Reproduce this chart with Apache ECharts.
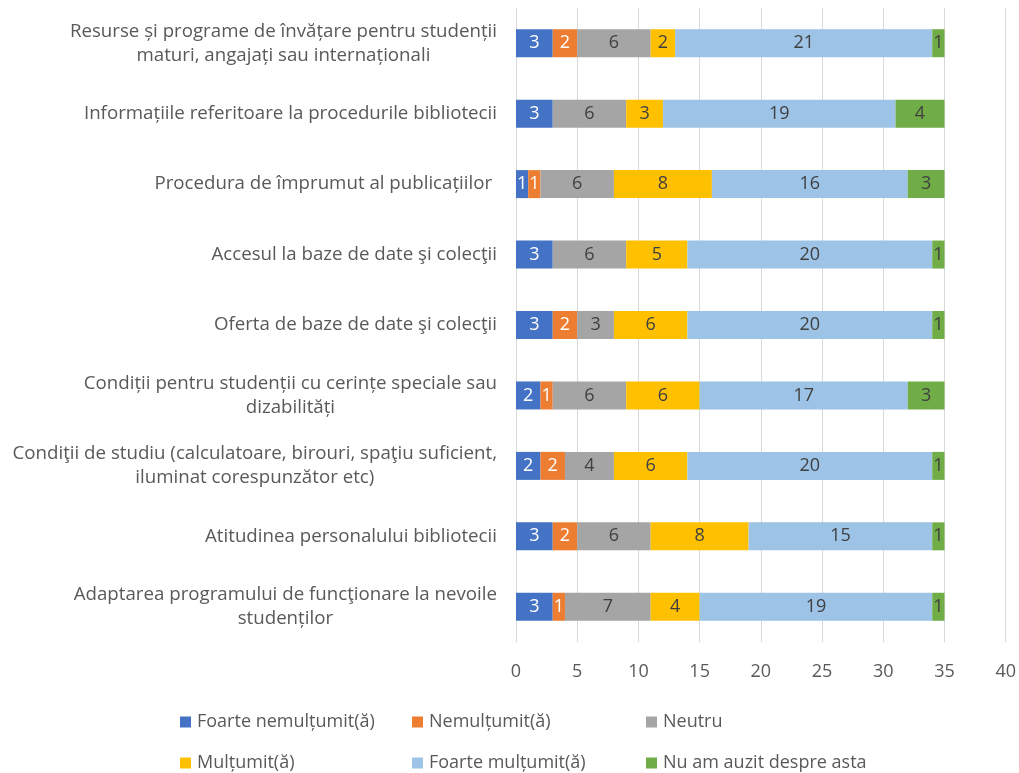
<!DOCTYPE html>
<html>
<head>
<meta charset="utf-8">
<script src="https://cdn.jsdelivr.net/npm/echarts@6/dist/echarts.min.js"></script>
<style>
  html, body { margin: 0; padding: 0; background: #fff; }
  #chart { width: 1019px; height: 773px; }
</style>
</head>
<body>
<div id="chart"></div>
<script>
// categorii de sus in jos
const categorii = [
    'Resurse și programe de învățare pentru studenții\nmaturi, angajați sau internaționali',
    'Informațiile referitoare la procedurile bibliotecii',
    'Procedura de împrumut al publicațiilor ',
    'Accesul la baze de date şi colecţii',
    'Oferta de baze de date şi colecţii',
    'Condiții pentru studenții cu cerințe speciale sau\ndizabilități',
    'Condiţii de studiu (calculatoare, birouri, spaţiu suficient,\niluminat corespunzător etc)',
    'Atitudinea personalului bibliotecii',
    'Adaptarea programului de funcţionare la nevoile\nstudenților'
];

const foarteNemultumit = [3, 3, 1, 3, 3, 2, 2, 3, 3];
const nemultumit = [2, 0, 1, 0, 2, 1, 2, 2, 1];
const neutru = [6, 6, 6, 6, 3, 6, 4, 6, 7];
const multumit = [2, 3, 8, 5, 6, 6, 6, 8, 4];
const foarteMultumit = [21, 19, 16, 20, 20, 17, 20, 15, 19];
const nuAmAuzit = [1, 4, 3, 1, 1, 3, 1, 1, 1];

const numeSerii = ['Foarte nemulțumit(ă)', 'Nemulțumit(ă)', 'Neutru', 'Mulțumit(ă)', 'Foarte mulțumit(ă)', 'Nu am auzit despre asta'];
const culori = ['#4472C4', '#ED7D31', '#A5A5A5', '#FFC000', '#9DC3E6', '#70AD47'];
const culoriEticheta = ['#ffffff', '#ffffff', '#404040', '#404040', '#404040', '#404040'];
const valoriSerii = [foarteNemultumit, nemultumit, neutru, multumit, foarteMultumit, nuAmAuzit];

const font = 'Open Sans';

const chartDom = document.getElementById('chart');
const myChart = echarts.init(chartDom);

const serii = numeSerii.map((nume, i) => ({
    name: nume,
    type: 'bar',
    stack: 'total',
    barWidth: 28,
    data: valoriSerii[i],
    itemStyle: { color: culori[i] },
    label: {
        show: true,
        position: 'inside',
        color: culoriEticheta[i],
        fontFamily: font,
        fontSize: 18,
        formatter: p => p.value > 0 ? p.value : ''
    }
}));

// legenda: 3 coloane, 2 randuri
const coloaneLegenda = [180, 412, 646];
const randuriLegenda = [713, 754];
const legende = numeSerii.map((nume, i) => ({
    data: [nume],
    left: coloaneLegenda[i % 3],
    top: randuriLegenda[Math.floor(i / 3)],
    padding: 0,
    itemWidth: 11,
    itemHeight: 11,
    icon: 'rect',
    textStyle: { color: '#595959', fontFamily: font, fontSize: 18, padding: [0, 0, 0, 1] }
}));

const option = {
    animation: false,
    backgroundColor: '#ffffff',
    grid: { left: 516, right: 13, top: 8, bottom: 131, containLabel: false },
    legend: legende,
    xAxis: {
        type: 'value',
        min: 0,
        max: 40,
        interval: 5,
        axisLine: { show: false },
        axisTick: { show: false },
        axisLabel: { color: '#595959', fontFamily: font, fontSize: 18, margin: 21 },
        splitLine: { show: true, lineStyle: { color: '#D9D9D9', width: 1 } }
    },
    yAxis: {
        type: 'category',
        inverse: true,
        data: categorii,
        axisLine: { show: true, lineStyle: { color: '#D9D9D9' } },
        axisTick: { show: false },
        axisLabel: {
            color: '#595959',
            fontFamily: font,
            fontSize: 18.7,
            margin: 19,
            lineHeight: 24,
            formatter: value => value.split('\n').map(r => '{c|' + r + '}').join('\n'),
            rich: {
                c: { align: 'center', color: '#595959', fontFamily: font, fontSize: 18.7, lineHeight: 24 }
            }
        }
    },
    series: serii
};

myChart.setOption(option);
</script>
</body>
</html>
